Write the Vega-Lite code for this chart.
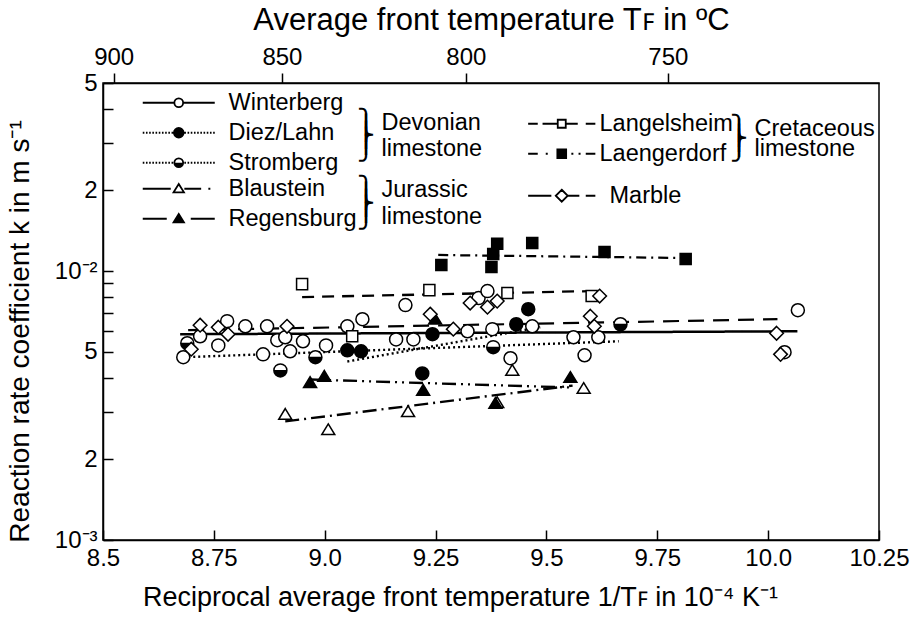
{
  "$schema": "https://vega.github.io/schema/vega-lite/v6.json",
  "width": 776,
  "height": 457,
  "autosize": "none",
  "padding": {"left": 103, "top": 83, "right": 40, "bottom": 79},
  "background": "white",
  "config": {
    "font": "Liberation Sans",
    "view": {"stroke": "black", "strokeWidth": 1.5},
    "axis": {"labelFont": "Liberation Sans", "titleFont": "Liberation Sans", "labelFontSize": 24, "titleFontSize": 28, "labelColor": "black", "titleColor": "black", "domainColor": "black", "tickColor": "black", "domainWidth": 1.5, "tickWidth": 1.5, "grid": false, "titleFontWeight": "normal", "labelFlush": false, "labelOverlap": false},
    "legend": {"labelFont": "Liberation Sans", "titleFont": "Liberation Sans", "labelFontSize": 23.5, "titleFontSize": 23.5, "labelColor": "black", "titleColor": "black", "titleFontWeight": "normal", "padding": 0, "labelLimit": 0, "titleLimit": 0, "titleOrient": "right", "titleAnchor": "middle", "titleBaseline": "middle", "titleAlign": "left", "symbolSize": 256, "symbolStrokeColor": "black", "symbolStrokeWidth": 1.8, "symbolOpacity": 1, "rowPadding": 5}
  },
  "datasets": {
    "fits": [
      {"series": "Winterberg", "x": 8.674, "k": 0.00582},
      {"series": "Winterberg", "x": 10.066, "k": 0.00597},
      {"series": "Diez/Lahn", "x": 9.051, "k": 0.00461},
      {"series": "Diez/Lahn", "x": 9.486, "k": 0.00618},
      {"series": "Stromberg", "x": 8.681, "k": 0.00478},
      {"series": "Stromberg", "x": 9.663, "k": 0.00548},
      {"series": "Blaustein", "x": 8.911, "k": 0.00276},
      {"series": "Blaustein", "x": 9.559, "k": 0.00375},
      {"series": "Regensburg", "x": 8.967, "k": 0.00395},
      {"series": "Regensburg", "x": 9.554, "k": 0.00369},
      {"series": "Langelsheim", "x": 8.949, "k": 0.0080},
      {"series": "Langelsheim", "x": 9.599, "k": 0.00842},
      {"series": "Laengerdorf", "x": 9.256, "k": 0.01147},
      {"series": "Laengerdorf", "x": 9.814, "k": 0.01118},
      {"series": "Marble", "x": 8.692, "k": 0.00603},
      {"series": "Marble", "x": 10.021, "k": 0.00662}
    ],
    "points": [
      {"series": "Winterberg", "x": 8.681, "k": 0.00478},
      {"series": "Winterberg", "x": 8.719, "k": 0.00572},
      {"series": "Winterberg", "x": 8.760, "k": 0.00529},
      {"series": "Winterberg", "x": 8.780, "k": 0.00651},
      {"series": "Winterberg", "x": 8.821, "k": 0.00623},
      {"series": "Winterberg", "x": 8.870, "k": 0.00623},
      {"series": "Winterberg", "x": 8.861, "k": 0.00490},
      {"series": "Winterberg", "x": 8.893, "k": 0.00553},
      {"series": "Winterberg", "x": 8.911, "k": 0.00567},
      {"series": "Winterberg", "x": 8.922, "k": 0.00503},
      {"series": "Winterberg", "x": 8.951, "k": 0.00548},
      {"series": "Winterberg", "x": 9.003, "k": 0.00529},
      {"series": "Winterberg", "x": 9.051, "k": 0.00623},
      {"series": "Winterberg", "x": 9.085, "k": 0.00662},
      {"series": "Winterberg", "x": 9.182, "k": 0.00747},
      {"series": "Winterberg", "x": 9.161, "k": 0.00557},
      {"series": "Winterberg", "x": 9.200, "k": 0.00557},
      {"series": "Winterberg", "x": 9.322, "k": 0.00597},
      {"series": "Winterberg", "x": 9.347, "k": 0.00793},
      {"series": "Winterberg", "x": 9.367, "k": 0.00842},
      {"series": "Winterberg", "x": 9.378, "k": 0.00608},
      {"series": "Winterberg", "x": 9.419, "k": 0.00474},
      {"series": "Winterberg", "x": 9.468, "k": 0.00623},
      {"series": "Winterberg", "x": 9.561, "k": 0.00567},
      {"series": "Winterberg", "x": 9.586, "k": 0.00486},
      {"series": "Winterberg", "x": 9.617, "k": 0.00567},
      {"series": "Winterberg", "x": 10.067, "k": 0.00715},
      {"series": "Winterberg", "x": 10.037, "k": 0.00499},
      {"series": "Diez/Lahn", "x": 9.051, "k": 0.00507},
      {"series": "Diez/Lahn", "x": 9.082, "k": 0.00503},
      {"series": "Diez/Lahn", "x": 9.220, "k": 0.00416},
      {"series": "Diez/Lahn", "x": 9.243, "k": 0.00582},
      {"series": "Diez/Lahn", "x": 9.432, "k": 0.00634},
      {"series": "Diez/Lahn", "x": 9.459, "k": 0.00721},
      {"series": "Stromberg", "x": 8.690, "k": 0.00539},
      {"series": "Stromberg", "x": 8.900, "k": 0.00427},
      {"series": "Stromberg", "x": 8.979, "k": 0.00478},
      {"series": "Stromberg", "x": 9.380, "k": 0.00521},
      {"series": "Stromberg", "x": 9.667, "k": 0.00634},
      {"series": "Blaustein", "x": 8.911, "k": 0.00293},
      {"series": "Blaustein", "x": 9.008, "k": 0.00257},
      {"series": "Blaustein", "x": 9.188, "k": 0.00300},
      {"series": "Blaustein", "x": 9.389, "k": 0.00324},
      {"series": "Blaustein", "x": 9.423, "k": 0.00427},
      {"series": "Blaustein", "x": 9.584, "k": 0.00366},
      {"series": "Regensburg", "x": 8.967, "k": 0.00385},
      {"series": "Regensburg", "x": 8.999, "k": 0.00406},
      {"series": "Regensburg", "x": 9.222, "k": 0.00360},
      {"series": "Regensburg", "x": 9.385, "k": 0.00322},
      {"series": "Regensburg", "x": 9.554, "k": 0.00402},
      {"series": "Regensburg", "x": 9.249, "k": 0.00662},
      {"series": "Langelsheim", "x": 8.949, "k": 0.00894},
      {"series": "Langelsheim", "x": 9.236, "k": 0.00849},
      {"series": "Langelsheim", "x": 9.412, "k": 0.00828},
      {"series": "Langelsheim", "x": 9.602, "k": 0.00807},
      {"series": "Langelsheim", "x": 9.062, "k": 0.00572},
      {"series": "Laengerdorf", "x": 9.263, "k": 0.01053},
      {"series": "Laengerdorf", "x": 9.389, "k": 0.01262},
      {"series": "Laengerdorf", "x": 9.380, "k": 0.01157},
      {"series": "Laengerdorf", "x": 9.376, "k": 0.01035},
      {"series": "Laengerdorf", "x": 9.468, "k": 0.01272},
      {"series": "Laengerdorf", "x": 9.631, "k": 0.01177},
      {"series": "Laengerdorf", "x": 9.814, "k": 0.01108},
      {"series": "Marble", "x": 8.699, "k": 0.00512},
      {"series": "Marble", "x": 8.719, "k": 0.00629},
      {"series": "Marble", "x": 8.760, "k": 0.00618},
      {"series": "Marble", "x": 8.782, "k": 0.00582},
      {"series": "Marble", "x": 8.915, "k": 0.00623},
      {"series": "Marble", "x": 9.238, "k": 0.00691},
      {"series": "Marble", "x": 9.290, "k": 0.00608},
      {"series": "Marble", "x": 9.367, "k": 0.00734},
      {"series": "Marble", "x": 9.389, "k": 0.00773},
      {"series": "Marble", "x": 9.328, "k": 0.00760},
      {"series": "Marble", "x": 9.599, "k": 0.00679},
      {"series": "Marble", "x": 9.608, "k": 0.00623},
      {"series": "Marble", "x": 9.620, "k": 0.00807},
      {"series": "Marble", "x": 10.019, "k": 0.00587},
      {"series": "Marble", "x": 10.028, "k": 0.00490}
    ]
  },
  "layer": [
    {
      "data": {"name": "fits"},
      "mark": {"type": "line", "color": "black"},
      "encoding": {
        "x": {"field": "x", "type": "quantitative", "scale": {"domain": [8.5, 10.25], "nice": false, "zero": false},
          "axis": {"orient": "bottom", "values": [8.5, 8.75, 9.0, 9.25, 9.5, 9.75, 10.0, 10.25], "labelExpr": "datum.value % 0.5 == 0 ? format(datum.value, '.1f') : format(datum.value, '.2f')", "tickSize": -10, "labelPadding": 16, "title": "Reciprocal average front temperature 1/Tꜰ in 10⁻⁴ K⁻¹", "titleFontSize": 27, "titlePadding": 14, "titleX": 357}},
        "y": {"field": "k", "type": "quantitative", "scale": {"type": "log", "domain": [0.001, 0.05], "nice": false},
          "axis": {"orient": "left", "values": [0.001, 0.002, 0.003, 0.004, 0.005, 0.006, 0.007, 0.008, 0.009, 0.01, 0.02, 0.03, 0.04, 0.05], "labelExpr": "datum.value == 0.001 ? '10⁻³' : datum.value == 0.002 ? '2' : datum.value == 0.005 ? '5' : datum.value == 0.01 ? '10⁻²' : datum.value == 0.02 ? '2' : datum.value == 0.05 ? '5' : ''", "tickSize": -10, "labelPadding": 16, "title": "Reaction rate coefficient k in m s⁻¹", "titleFontSize": 28, "titlePadding": 20, "titleY": 248}},
        "strokeDash": {"field": "series", "type": "nominal",
          "scale": {"domain": ["Winterberg", "Diez/Lahn", "Stromberg", "Blaustein", "Regensburg", "Langelsheim", "Laengerdorf", "Marble"],
            "range": [[1, 0], [2, 3], [2, 3], [14, 5, 2, 5], [14, 5, 2, 5, 2, 5], [12, 8], [10, 5, 2, 5], [16, 9]]},
          "legend": null},
        "strokeWidth": {"field": "series", "type": "nominal",
          "scale": {"domain": ["Winterberg", "Diez/Lahn", "Stromberg", "Blaustein", "Regensburg", "Langelsheim", "Laengerdorf", "Marble"],
            "range": [2.5, 2.2, 2.2, 2, 2, 2, 2, 2]},
          "legend": null}
      }
    },
    {
      "data": {"name": "points"},
      "mark": {"type": "point", "filled": true, "stroke": "black", "strokeWidth": 1.5, "size": 169, "opacity": 1},
      "encoding": {
        "x": {"field": "x", "type": "quantitative", "scale": {"domain": [8.5, 10.25], "nice": false, "zero": false},
          "axis": {"orient": "top", "values": [8.52406, 8.90353, 9.31836, 9.77374], "labelExpr": "format(10000 / datum.value - 273.15, '.0f')", "tickSize": 10, "labelPadding": 4, "title": "Average front temperature Tꜰ in ºC", "titleFontSize": 31, "titlePadding": 9}},
        "y": {"field": "k", "type": "quantitative", "scale": {"type": "log", "domain": [0.001, 0.05], "nice": false}, "axis": null},
        "shape": {"field": "series", "type": "nominal",
          "scale": {"domain": ["Winterberg", "Diez/Lahn", "Stromberg", "Blaustein", "Regensburg", "Langelsheim", "Laengerdorf", "Marble"],
            "range": [
              "M-1,0A1,1 0 1,0 1,0A1,1 0 1,0 -1,0Z",
              "M-1,0A1,1 0 1,0 1,0A1,1 0 1,0 -1,0Z",
              "M-1,0A1,1 0 1,0 1,0A1,1 0 1,0 -1,0ZM-1,0.05H1M-0.98,0.2H0.98M-0.94,0.35H0.94M-0.87,0.5H0.87M-0.76,0.65H0.76M-0.6,0.8H0.6M-0.39,0.92H0.39",
              "M0,-0.9L1,0.75L-1,0.75Z",
              "M0,-0.9L1,0.75L-1,0.75Z",
              "M-0.85,-0.85H0.85V0.85H-0.85Z",
              "M-0.85,-0.85H0.85V0.85H-0.85Z",
              "M0,-1.05L1.05,0L0,1.05L-1.05,0Z"
            ]},
          "legend": null},
        "fill": {"field": "series", "type": "nominal",
          "scale": {"domain": ["Winterberg", "Diez/Lahn", "Stromberg", "Blaustein", "Regensburg", "Langelsheim", "Laengerdorf", "Marble"],
            "range": ["white", "black", "white", "white", "black", "white", "black", "white"]},
          "legend": null}
      }
    },
    {
      "data": {"name": "fits"},
      "transform": [{"filter": "datum.series == 'none'"}],
      "mark": {"type": "point", "filled": false, "color": "black", "strokeWidth": 1.8, "size": 256},
      "encoding": {
        "x": {"field": "x", "type": "quantitative", "scale": {"domain": [8.5, 10.25], "nice": false, "zero": false}, "axis": null},
        "y": {"field": "k", "type": "quantitative", "scale": {"type": "log", "domain": [0.001, 0.05], "nice": false}, "axis": null},
        "shape": {"field": "series", "type": "nominal",
          "scale": {"domain": ["Winterberg", "Diez/Lahn", "Stromberg"],
            "range": [
              "M-4.5,0H-0.55M0.55,0H4.5M-0.55,0A0.55,0.55 0 1,0 0.55,0A0.55,0.55 0 1,0 -0.55,0Z",
              "M-4.5,0h0.2M-4.1,0h0.2M-3.7,0h0.2M-3.3,0h0.2M-2.9,0h0.2M-2.5,0h0.2M-2.1,0h0.2M-1.7,0h0.2M-1.3,0h0.2M-0.9,0h0.2M0.7,0h0.2M1.1,0h0.2M1.5,0h0.2M1.9,0h0.2M2.3,0h0.2M2.7,0h0.2M3.1,0h0.2M3.5,0h0.2M3.9,0h0.2M4.3,0h0.2M-0.6,0A0.6,0.6 0 1,0 0.6,0A0.6,0.6 0 1,0 -0.6,0ZM-0.26,-0.54H0.26M-0.43,-0.42H0.43M-0.52,-0.3H0.52M-0.57,-0.18H0.57M-0.6,-0.06H0.6M-0.6,0.06H0.6M-0.57,0.18H0.57M-0.52,0.3H0.52M-0.43,0.42H0.43M-0.26,0.54H0.26",
              "M-4.5,0h0.2M-4.1,0h0.2M-3.7,0h0.2M-3.3,0h0.2M-2.9,0h0.2M-2.5,0h0.2M-2.1,0h0.2M-1.7,0h0.2M-1.3,0h0.2M-0.9,0h0.2M0.7,0h0.2M1.1,0h0.2M1.5,0h0.2M1.9,0h0.2M2.3,0h0.2M2.7,0h0.2M3.1,0h0.2M3.5,0h0.2M3.9,0h0.2M4.3,0h0.2M-0.55,0A0.55,0.55 0 1,0 0.55,0A0.55,0.55 0 1,0 -0.55,0ZM-0.54,0.1H0.54M-0.5,0.22H0.5M-0.43,0.34H0.43M-0.3,0.46H0.3"
            ]},
          "legend": {"orient": "none", "legendX": 64, "legendY": 8, "title": ["", "⎫ Devonian", "⎪", "⎬", "⎪", "⎭ limestone"], "titleLineHeight": 6.5, "titlePadding": 14, "labelOffset": 38}
        }
      }
    },
    {
      "data": {"name": "fits"},
      "transform": [{"filter": "datum.series == 'none'"}],
      "mark": {"type": "point", "filled": false, "color": "black", "strokeWidth": 1.8, "size": 256},
      "encoding": {
        "x": {"field": "x", "type": "quantitative", "scale": {"domain": [8.5, 10.25], "nice": false, "zero": false}, "axis": null},
        "y": {"field": "k", "type": "quantitative", "scale": {"type": "log", "domain": [0.001, 0.05], "nice": false}, "axis": null},
        "shape": {"field": "series", "type": "nominal",
          "scale": {"domain": ["Blaustein", "Regensburg"],
            "range": [
              "M-4.5,0H-1M0.7,0H2.8M3.7,0h0.25M0,-0.6L0.65,0.45L-0.65,0.45Z",
              "M-4.5,0H-1.5M1.5,0H4.5M0,-0.6L0.65,0.45L-0.65,0.45ZM-0.074,-0.48H0.074M-0.149,-0.36H0.149M-0.223,-0.24H0.223M-0.297,-0.12H0.297M-0.371,0H0.371M-0.446,0.12H0.446M-0.52,0.24H0.52M-0.594,0.36H0.594"
            ]},
          "legend": {"orient": "none", "legendX": 64, "legendY": 94, "title": ["⎫ Jurassic", "⎪", "⎬", "⎪", "⎭ limestone"], "titleLineHeight": 6.75, "titlePadding": 0, "labelOffset": 38}
        }
      }
    },
    {
      "data": {"name": "fits"},
      "transform": [{"filter": "datum.series == 'none'"}],
      "mark": {"type": "point", "filled": false, "color": "black", "strokeWidth": 1.8, "size": 256},
      "encoding": {
        "x": {"field": "x", "type": "quantitative", "scale": {"domain": [8.5, 10.25], "nice": false, "zero": false}, "axis": null},
        "y": {"field": "k", "type": "quantitative", "scale": {"type": "log", "domain": [0.001, 0.05], "nice": false}, "axis": null},
        "shape": {"field": "series", "type": "nominal",
          "scale": {"domain": ["Langelsheim", "Laengerdorf"],
            "range": [
              "M-4.2,0H-3M-2.4,0H-0.5M0.5,0H2M3,0H4.2M-0.5,-0.5H0.5V0.5H-0.5Z",
              "M-4.2,0H-3M-2,0h0.25M1.2,0h0.25M2.1,0h0.25M3,0H4.2M-0.55,-0.55H0.55V0.55H-0.55ZM-0.55,-0.42H0.55M-0.55,-0.3H0.55M-0.55,-0.18H0.55M-0.55,-0.06H0.55M-0.55,0.06H0.55M-0.55,0.18H0.55M-0.55,0.3H0.55M-0.55,0.42H0.55"
            ]},
          "legend": {"orient": "none", "legendX": 447, "legendY": 29, "title": ["", "", "⎫ Cretaceous", "⎪", "⎬", "⎪", "⎭ limestone"], "titleLineHeight": 5, "titlePadding": -3, "labelOffset": 26}
        }
      }
    },
    {
      "data": {"name": "fits"},
      "transform": [{"filter": "datum.series == 'none'"}],
      "mark": {"type": "point", "filled": false, "color": "black", "strokeWidth": 1.8, "size": 256},
      "encoding": {
        "x": {"field": "x", "type": "quantitative", "scale": {"domain": [8.5, 10.25], "nice": false, "zero": false}, "axis": null},
        "y": {"field": "k", "type": "quantitative", "scale": {"type": "log", "domain": [0.001, 0.05], "nice": false}, "axis": null},
        "shape": {"field": "series", "type": "nominal",
          "scale": {"domain": ["Marble"],
            "range": ["M-4.2,0H-1.3M0.8,0H2.2M3,0H4.2M0,-0.75L0.75,0L0,0.75L-0.75,0Z"]},
          "legend": {"orient": "none", "legendX": 447, "legendY": 101, "title": null, "labelOffset": 36}
        }
      }
    }
  ],
  "resolve": {
    "scale": {"shape": "independent", "fill": "independent", "strokeDash": "independent", "strokeWidth": "independent"},
    "axis": {"x": "independent", "y": "independent"},
    "legend": {"shape": "independent"}
  }
}
